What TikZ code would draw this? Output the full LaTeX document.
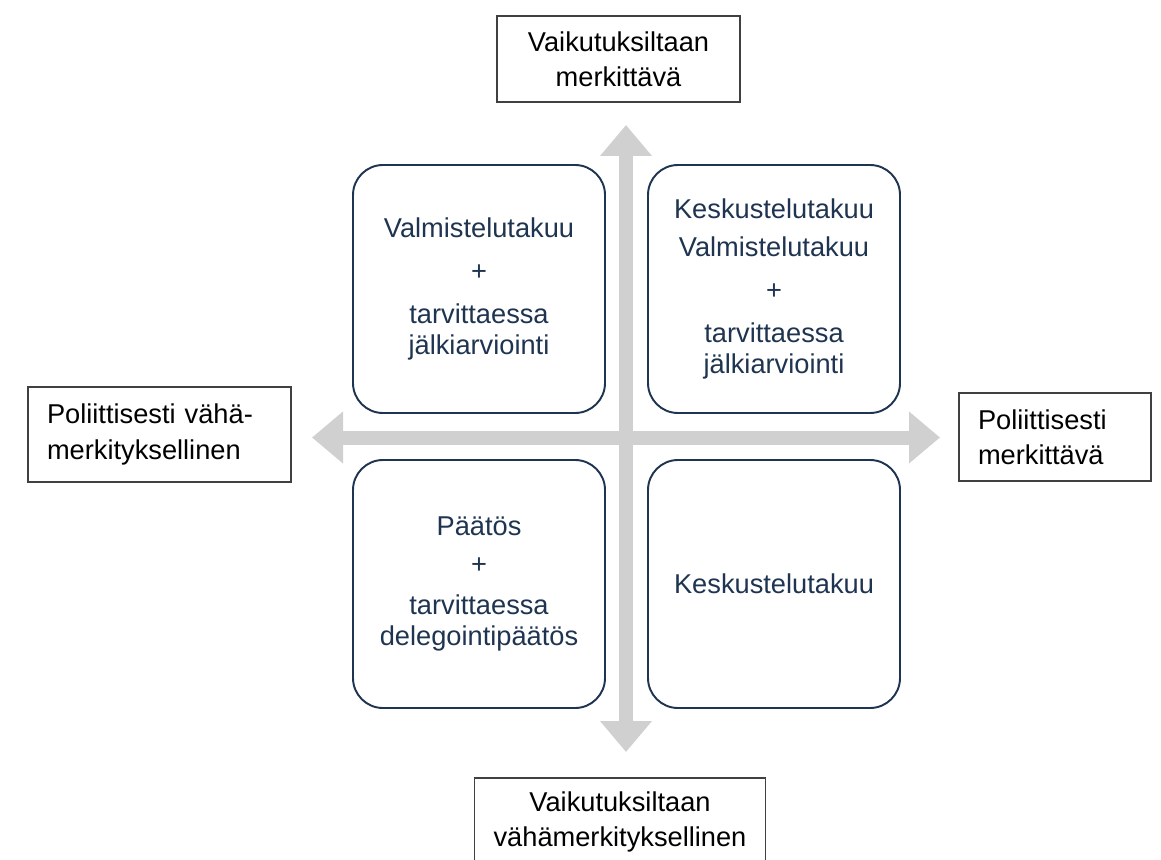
\documentclass[tikz,border=0pt]{standalone}
\usepackage{fontspec}
\setmainfont{Liberation Sans}
\usepackage{tikz}
\usetikzlibrary{arrows.meta,positioning}
\definecolor{navy}{RGB}{30,52,80}
\definecolor{axisgray}{RGB}{208,208,208}

\begin{document}
\begin{tikzpicture}[
  quad/.style={draw=navy, line width=1.1pt, rounded corners=0.6cm, minimum width=5.04cm, minimum height=4.96cm, align=center, text=navy, font=\fontsize{15.5}{17.5}\selectfont},
  endbox/.style={draw=black!75, line width=0.8pt, align=center, inner xsep=0.38cm, font=\fontsize{15.5}{20}\selectfont},
  axis/.style={-{Triangle[width=1cm, length=0.62cm]}, line width=0.28cm, draw=axisgray}
]
\useasboundingbox (0,0) rectangle (23.22,-17.18);

\coordinate (up) at (12.52,-2.5);
\coordinate (down) at (12.52,-15.04);
\coordinate (left) at (6.24,-8.75);
\coordinate (right) at (18.8,-8.75);
\coordinate (mid) at (12.52,-8.75);

\draw[axis] (mid) -- (up);
\draw[axis] (mid) -- (down);
\draw[axis] (mid) -- (left);
\draw[axis] (mid) -- (right);

\node[quad] (tl) at (9.58,-5.78) {Valmistelutakuu\\[7pt] +\\[7pt] tarvittaessa\\ jälkiarviointi};
\node[quad] (tr) at (15.48,-5.78) {Keskustelutakuu\\[4pt] Valmistelutakuu\\[7pt] +\\[7pt] tarvittaessa\\ jälkiarviointi};
\node[quad] (bl) at (9.58,-11.68) {Päätös\\[4pt] +\\[6pt] tarvittaessa\\ delegointipäätös};
\node[quad] (br) at (15.48,-11.68) {Keskustelutakuu};

\node[endbox, minimum width=4.86cm, minimum height=1.72cm] (vaikup) at (12.37,-1.18) {Vaikutuksiltaan\\ merkittävä};
\node[endbox, minimum width=5.68cm, minimum height=1.76cm] (vaikdown) at (12.4,-16.44) {Vaikutuksiltaan\\ vähämerkityksellinen};
\node[endbox, text width=4.5cm, align=left, minimum height=1.9cm] (polleft) at (3.19,-8.69) {Poliittisesti vähä-\\ merkityksellinen};
\node[endbox, text width=3.08cm, align=left, minimum height=1.76cm] (polright) at (21.1,-8.74) {Poliittisesti\\ merkittävä};

\end{tikzpicture}
\end{document}
